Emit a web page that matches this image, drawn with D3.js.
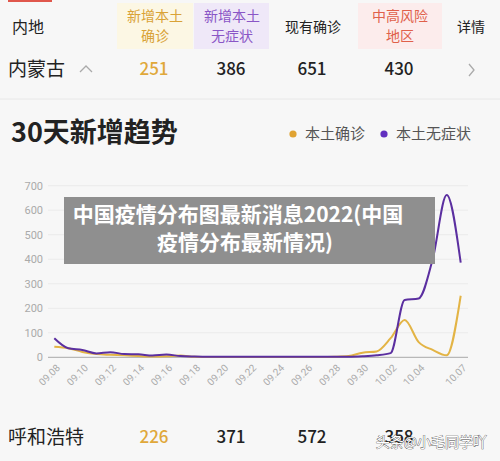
<!DOCTYPE html>
<html><head><meta charset="utf-8">
<script src="https://cdn.jsdelivr.net/npm/d3@7"></script>
<style>
html,body{margin:0;padding:0;background:#f7f7f7;}
svg{display:block;font-family:"Noto Sans CJK SC","Noto Sans",sans-serif;}
</style></head>
<body>
<svg id="c" width="500" height="461"></svg>
<script>
const dates = ["09.08","09.09","09.10","09.11","09.12","09.13","09.14","09.15","09.16","09.17","09.18","09.19","09.20","09.21","09.22","09.23","09.24","09.25","09.26","09.27","09.28","09.29","09.30","10.01","10.02","10.03","10.04","10.05","10.06","10.07"];
const confirmed = [43,37,22,13,10,8,5,3,4,7,2,1,1,1,1,1,1,1,1,1,2,5,19,24,78,152,62,30,8,251];
const asymptomatic = [78,37,30,16,21,13,12,7,11,5,3,2,2,2,2,2,2,2,2,2,2,2,4,8,17,234,240,400,662,386];
const tickLabels = ["09.08","09.10","09.12","09.14","09.16","09.18","09.20","09.22","09.24","09.26","09.28","09.30","10.02","10.04","10.07"];
const yTicks = [0,100,200,300,400,500,600,700];
const seriesNames = ["本土确诊","本土无症状"];
const headerCols = [["内地"],["新增本土","确诊"],["新增本土","无症状"],["现有确诊"],["中高风险","地区"],["详情"]];
const row1 = ["内蒙古","251","386","651","430"];
const row2 = ["呼和浩特","226","371","572","358"];
const title = "30天新增趋势";
const overlayLines = ["中国疫情分布图最新消息2022(中国","疫情分布最新情况)"];
const watermark = "头条@小毛同学吖";

const svg = d3.select("#c");
const ORANGE = "#e3b445", PURPLE = "#5b2fa0";

// top red tab
svg.append("rect").attr("x",8).attr("y",0).attr("width",44).attr("height",2).attr("fill","#e0574c");

// header cells
const colX = [null,155,232,313,400,471];
const bgs = [null,{x:117,w:76,c:"#fcf7e4"},{x:194,w:75,c:"#efe8f8"},null,{x:358,w:84,c:"#fcecec"},null];
const hColors = ["#222","#d9a236","#8a56c6","#222","#e0604a","#222"];
bgs.forEach(b=>{ if(b) svg.append("rect").attr("x",b.x).attr("y",3).attr("width",b.w).attr("height",46).attr("fill",b.c); });
headerCols.forEach((lines,i)=>{
  const t = svg.append("text").attr("fill",hColors[i]).attr("font-size", i===0?16:14)
    .attr("text-anchor", i===0?"start":"middle");
  lines.forEach((l,j)=>{
    const yy = lines.length===1 ? 27 : (j===0?16:36);
    t.append("tspan").attr("x", i===0?12:colX[i]).attr("y",yy).attr("dy","0.35em").text(l);
  });
});
// row 1
svg.append("text").attr("x",8).attr("y",69).attr("dy","0.35em").attr("font-size",19).attr("fill","#222").text(row1[0]);
svg.append("path").attr("d","M80,72 L86,66 L92,72").attr("fill","none").attr("stroke","#aaa").attr("stroke-width",1.3);
row1.slice(1).forEach((v,i)=>{
  svg.append("text").attr("x",colX[i+1]-1).attr("y",69).attr("dy","0.35em").attr("text-anchor","middle")
    .attr("font-size",17).attr("font-weight",500).attr("fill", i===0?"#e0a83a":"#222").text(v);
});
svg.append("path").attr("d","M469,64 L474,70 L469,76").attr("fill","none").attr("stroke","#aaa").attr("stroke-width",1.3);
svg.append("line").attr("x1",0).attr("x2",500).attr("y1",99).attr("y2",99).attr("stroke","#e8e8e8");

// title + legend
svg.append("text").attr("x",11).attr("y",133).attr("dy","0.35em").attr("font-size",27).attr("font-weight",700)
  .attr("fill","#222").text(title);
const legend = [{x:293,c:"#e0a332",t:seriesNames[0]},{x:384,c:"#6230c0",t:seriesNames[1]}];
legend.forEach(l=>{
  svg.append("circle").attr("cx",l.x).attr("cy",134).attr("r",3.6).attr("fill",l.c);
  svg.append("text").attr("x",l.x+12).attr("y",134).attr("dy","0.35em").attr("font-size",15).attr("fill","#555").text(l.t);
});

// chart
const x = d3.scalePoint().domain(dates).range([54.3,460.7]);
const y = d3.scaleLinear().domain([0,700]).range([357.3,185.7]);
const g = svg.append("g");
g.selectAll("line.grid").data(yTicks).join("line")
  .attr("x1",48).attr("x2",468).attr("y1",d=>y(d)).attr("y2",d=>y(d))
  .attr("stroke",d=>d===0?"#a8a8a8":"#ebebeb").attr("stroke-width",1);
g.selectAll("text.yl").data(yTicks).join("text")
  .attr("x",43).attr("y",d=>y(d)).attr("dy","0.35em").attr("text-anchor","end")
  .attr("font-size",11).attr("fill","#aaa").attr("font-family","Roboto, sans-serif").text(d=>d);
g.selectAll("text.xl").data(tickLabels).join("text")
  .attr("transform",d=>`translate(${x(d)+4},${366}) rotate(-45)`)
  .attr("text-anchor","end").attr("dy","0.35em")
  .attr("font-size",10).attr("fill","#aaa").attr("font-family","Roboto, sans-serif").text(d=>d);

const line = d3.line().x((d,i)=>x(dates[i])).y(d=>y(d)).curve(d3.curveMonotoneX);
g.append("path").datum(confirmed).attr("d",line).attr("fill","none").attr("stroke",ORANGE).attr("stroke-width",2);
g.append("path").datum(asymptomatic).attr("d",line).attr("fill","none").attr("stroke",PURPLE).attr("stroke-width",2);

// overlay banner
svg.append("rect").attr("x",64).attr("y",197).attr("width",371).attr("height",67).attr("fill","#8f8f8f");
overlayLines.forEach((l,i)=>{
  svg.append("text").attr("x", i===0?238:245).attr("y", i===0?215:243).attr("dy","0.35em").attr("text-anchor","middle")
    .attr("font-size",21).attr("font-weight",700).attr("fill","#fff").text(l);
});

// row 2
svg.append("text").attr("x",8).attr("y",437).attr("dy","0.35em").attr("font-size",19).attr("fill","#222").text(row2[0]);
row2.slice(1).forEach((v,i)=>{
  svg.append("text").attr("x",colX[i+1]-1).attr("y",437).attr("dy","0.35em").attr("text-anchor","middle")
    .attr("font-size",17).attr("font-weight",500).attr("fill", i===0?"#e0a83a":"#222").text(v);
});
svg.append("text").attr("x",487).attr("y",442).attr("dy","0.35em").attr("text-anchor","end")
  .attr("font-size",14).attr("fill","#fff").attr("stroke","#444").attr("stroke-width",0.7)
  .attr("paint-order","stroke").text(watermark);
</script>
</body></html>
